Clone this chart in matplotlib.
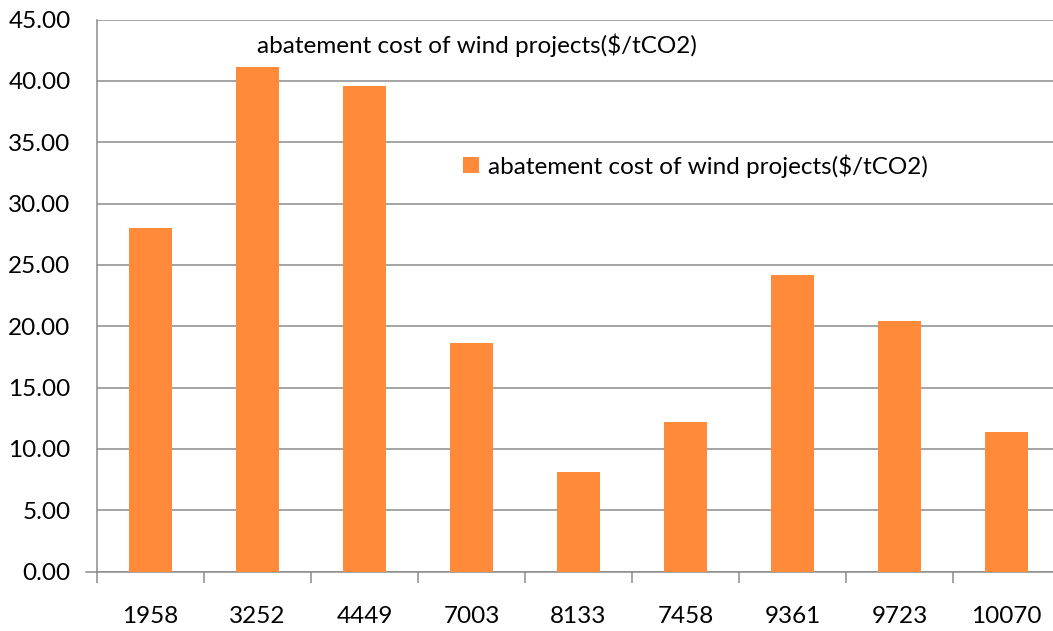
import numpy as np
from matplotlib import pyplot as plt

# data
projects = ['1958', '3252', '4449', '7003', '8133', '7458', '9361', '9723', '10070']
abatement_cost = [28.0, 41.1, 39.6, 18.6, 8.1, 12.2, 24.2, 20.4, 11.4]
y_ticks = [0, 5, 10, 15, 20, 25, 30, 35, 40, 45]
series_name = 'abatement cost of wind projects($/tCO2)'

plt.rcParams['font.family'] = ['Lato', 'DejaVu Sans']

W, H = 1053, 631
fig = plt.figure(figsize=(W/100, H/100), dpi=100)
# plot area: left 97px, top 19.5px, bottom 571.5px, right runs off the image
ax = fig.add_axes([97/W, 1 - 571.5/H, (1060 - 97)/W, (571.5 - 19.5)/H])

grey = '#8c8c8c'
orange = '#FF8A3A'
fs = 17.5

x = np.arange(len(projects))
bars = ax.bar(x, abatement_cost, width=0.4, color=orange, zorder=3, label=series_name)

ax.set_xlim(-0.5, len(projects) - 0.5)
ax.set_ylim(0, 45)
ax.set_yticks(y_ticks)
ax.set_yticklabels([f'{v:.2f}' for v in y_ticks], fontsize=fs)
ax.set_xticks(x)
ax.set_xticklabels(projects, fontsize=fs)
ax.set_xticks(np.arange(len(projects) + 1) - 0.5, minor=True)

ax.yaxis.grid(True, color=grey, linewidth=1.1, zorder=0)
ax.tick_params(axis='y', length=0, pad=19)
ax.tick_params(axis='x', which='major', length=0, pad=25)
ax.tick_params(axis='x', which='minor', length=8, width=1.1, color=grey, direction='out')

for side in ['top', 'right']:
    ax.spines[side].set_visible(False)
for side in ['left', 'bottom']:
    ax.spines[side].set_color(grey)
    ax.spines[side].set_linewidth(1.1)

# little stub on the left of the zero line
ax.plot([-0.6, -0.5], [0, 0], color=grey, linewidth=1.1, clip_on=False)

fig.text(477/W, 1 - 45/H, series_name, fontsize=fs, ha='center', va='center')

ax.legend(handles=[bars], loc='center left', bbox_to_anchor=(441/W, 1 - 166/H),
          bbox_transform=fig.transFigure, frameon=False, fontsize=fs,
          handlelength=0.66, handleheight=0.66, handletextpad=0.37)

fig.savefig('out.png', dpi=100)
